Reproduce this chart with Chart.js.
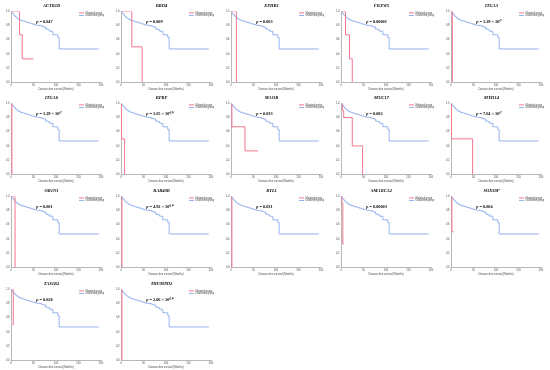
<!DOCTYPE html>
<html>
<head>
<meta charset="utf-8">
<script src="https://cdn.jsdelivr.net/npm/chart.js@4.4.1/dist/chart.umd.min.js"></script>
<style>
html,body{margin:0;padding:0;background:#fff;}
#wrap{position:relative;width:550px;height:370px;background:#fff;overflow:hidden;}
.cell{position:absolute;width:110px;height:92px;}
</style>
</head>
<body>
<div id="wrap"></div>
<script>
// ---- data ----
const genes = ["ACTR1B","BRD4","EPHB1","FBXW5","ITGA3",
               "ITGA6","KPRP","MAOB","MUC17","MYH14",
               "OR1N1","RAB40B","RTL1","SMARCA2","SOX30P",
               "TAS1R2","THUMPD2"];
const pLabels = ["0.047","0.009","0.063","0.00001","1.29 × 10⁻⁷",
                 "1.29 × 10⁻⁷","1.65 × 10⁻¹⁰","0.033","0.002","7.64 × 10⁻⁷",
                 "0.001","4.92 × 10⁻¹⁰","0.031","0.00003","0.004",
                 "0.028","2.06 × 10⁻¹⁰"];
const seriesNames = ["Mutated group","Unaltered group"];
// Unaltered group (Kaplan-Meier steps, months / survival)
const unalteredTimes = [0,2,4,6,8,10,13,16,20,25,30,35,40,45,50,55,62,68,72,77,82,86,93,100,104,107,195];
const unalteredSurv  = [1.0,0.98,0.965,0.95,0.935,0.92,0.905,0.89,0.875,0.865,0.855,0.845,0.835,0.825,0.815,0.805,0.80,0.79,0.78,0.75,0.74,0.72,0.67,0.67,0.63,0.47,0.47];
// Mutated group, one array per gene
const mutatedTimes = [
  [0,19,25,50],
  [0,24,47],
  [0,12],
  [0,10,19,25],
  [0,3],
  [0,2],
  [0,1,8],
  [0,2,31,60],
  [0,3,6,25,48],
  [0,1,48],
  [0,9],
  [0,2],
  [0,2],
  [0,2,4,7],
  [0,2,6],
  [0,5,7],
  [0,2]
];
const mutatedSurv = [
  [1,0.67,0.33,0.33],
  [1,0.5,0],
  [1,0],
  [1,0.67,0.33,0],
  [1,0],
  [1,0],
  [1,0.5,0],
  [1,0.67,0.33,0.33],
  [1,0.9,0.8,0.4,0],
  [1,0.5,0],
  [1,0],
  [1,0],
  [1,0],
  [1,0.9,0.33,0.33],
  [1,0.5,0.5],
  [1,0.5,0.5],
  [1,0]
];
const xTicks = [0,50,100,150,200];
const yTicks = [0,0.2,0.4,0.6,0.8,1.0];
const xTitle = "Disease-free survival (Months)";

// ---- layout ----
const colX = [0,110,220,330,440];
const rowY = [0,92,185,278];
const RED = "#f3778f";
const BLUE = "#96b3ee";

const pPlugin = {
  id:'pText',
  afterDatasetsDraw(chart, args, opts){
    const {ctx, scales:{x,y}, chartArea} = chart;
    const px = x.getPixelForValue(opts.x), py = y.getPixelForValue(opts.y);
    ctx.save();
    ctx.fillStyle = '#000';
    ctx.textBaseline = 'middle';
    ctx.textAlign = 'left';
    ctx.font = 'italic bold 4.3px "Liberation Serif"';
    ctx.fillText('p', px, py);
    const w = ctx.measureText('p ').width;
    ctx.font = 'bold 4.3px "Liberation Serif"';
    ctx.fillText('= ' + opts.text, px + w, py);
    // legend, top-right inside plot area
    ctx.font = '2.6px "Liberation Sans"';
    ctx.textBaseline = 'middle';
    chart.data.datasets.forEach((ds,k)=>{
      const ly = chartArea.top + 1.5 + k*2.6;
      const lx = chartArea.right - 22;
      ctx.strokeStyle = ds.borderColor;
      ctx.lineWidth = 1;
      ctx.beginPath(); ctx.moveTo(lx, ly); ctx.lineTo(lx+5, ly); ctx.stroke();
      ctx.fillStyle = '#444';
      ctx.fillText(ds.label, lx+6.5, ly);
    });
    ctx.restore();
  }
};

const wrap = document.getElementById('wrap');
genes.forEach((g,i)=>{
  const r = Math.floor(i/5), c = i%5;
  const d = document.createElement('div');
  d.className='cell';
  d.style.left = colX[c]+'px';
  d.style.top = rowY[r]+'px';
  const cv = document.createElement('canvas');
  cv.width=110; cv.height=92;
  d.appendChild(cv);
  wrap.appendChild(d);
  const mut = mutatedTimes[i].map((t,k)=>({x:t,y:mutatedSurv[i][k]}));
  const una = unalteredTimes.map((t,k)=>({x:t,y:unalteredSurv[k]}));
  new Chart(cv,{
    type:'line',
    data:{datasets:[
      {label:seriesNames[0],data:mut,borderColor:RED,backgroundColor:RED,borderWidth:1,pointRadius:0,stepped:true,fill:false},
      {label:seriesNames[1],data:una,borderColor:BLUE,backgroundColor:BLUE,borderWidth:1,pointRadius:0,stepped:true,fill:false}
    ]},
    plugins:[pPlugin],
    options:{
      responsive:false,animation:false,devicePixelRatio:1,
      layout:{padding:{left:2,right:9,top:0,bottom:1}},
      plugins:{
        pText:{x:56,y:0.855,text:pLabels[i]},
        title:{display:true,text:g,font:{family:'"Liberation Serif"',size:4.5,style:'italic',weight:'bold'},color:'#000',padding:{top:3,bottom:3}},
        legend:{display:false},
        tooltip:{enabled:false}
      },
      scales:{
        x:{type:'linear',min:0,max:200,
          afterBuildTicks(s){s.ticks=xTicks.map(v=>({value:v}));},
          grid:{display:false,drawTicks:true,tickLength:1},
          border:{color:'#888',width:0.6},
          ticks:{font:{size:2.6},color:'#444',padding:0.5,maxRotation:0},
          title:{display:true,text:xTitle,font:{size:2.6},color:'#444',padding:{top:0.5,bottom:0}}
        },
        y:{type:'linear',min:0,max:1,
          afterBuildTicks(s){s.ticks=yTicks.map(v=>({value:v}));},
          afterFit(s){s.width=9;},
          grid:{display:false,tickLength:1},
          border:{color:'#888',width:0.6},
          ticks:{font:{size:2.6},color:'#444',padding:0.5,callback:v=>Number(v).toFixed(1)}
        }
      }
    }
  });
});
</script>
</body>
</html>
